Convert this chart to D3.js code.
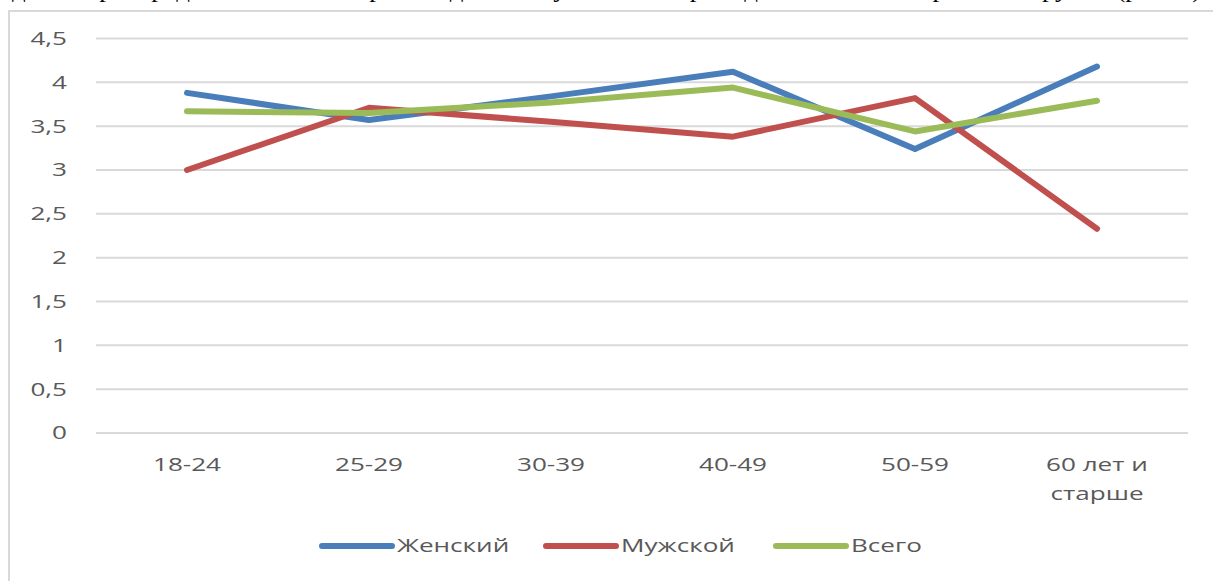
<!DOCTYPE html>
<html>
<head>
<meta charset="utf-8">
<script src="https://d3js.org/d3.v7.min.js"></script>
<style>
  body { margin: 0; background: #fff; }
  .lbl { font-family: "Open Sans", sans-serif; font-size: 18px; fill: #595959; }
  .grid line { stroke: #d9d9d9; stroke-width: 2; }
  .series { fill: none; stroke-width: 6; stroke-linecap: round; stroke-linejoin: round; }
</style>
</head>
<body>
<script>
var categories = ["18-24", "25-29", "30-39", "40-49", "50-59", "60 лет и|старше"];
var female = [3.88, 3.57, 3.84, 4.12, 3.24, 4.18];
var male = [3.0, 3.71, 3.55, 3.38, 3.82, 2.33];
var total = [3.67, 3.65, 3.77, 3.94, 3.44, 3.79];
var seriesNames = ["Женский", "Мужской", "Всего"];
var colors = ["#4a7ebb", "#c0504d", "#9bbb59"];
var yTicks = [0, 0.5, 1, 1.5, 2, 2.5, 3, 3.5, 4, 4.5];

var W = 1213, H = 581, sx = 1.45;

var svg = d3.select("body").append("svg")
    .attr("width", W).attr("height", H);

// clipped line of document text above the chart
svg.append("text")
    .attr("x", 12).attr("y", -3)
    .attr("textLength", 1196)
    .attr("lengthAdjust", "spacingAndGlyphs")
    .style("font-family", "'Liberation Serif', serif")
    .style("font-size", "26px")
    .style("fill", "#000")
    .text("данное распределение ответов респондентов с учетом их принадлежности к возрастной группе (рис. 3).");

// chart frame
svg.append("path")
    .attr("d", "M9," + H + "V11H" + W)
    .attr("fill", "none")
    .attr("stroke", "#d9d9d9")
    .attr("stroke-width", 2);

var x = d3.scaleBand().domain(categories).range([96, 1188]);
var y = d3.scaleLinear().domain([0, 4.5]).range([433, 38.5]);

svg.append("g").attr("class", "grid")
  .selectAll("line").data(yTicks).enter().append("line")
    .attr("x1", 96).attr("x2", 1188)
    .attr("y1", function(d) { return y(d); })
    .attr("y2", function(d) { return y(d); });

svg.append("g").selectAll("text").data(yTicks).enter().append("text")
    .attr("class", "lbl")
    .attr("text-anchor", "end")
    .attr("dy", "0.36em")
    .attr("transform", function(d) { return "translate(67," + y(d) + ") scale(" + sx + ",1)"; })
    .text(function(d) { return String(d).replace(".", ","); });

var xl = svg.append("g").selectAll("text").data(categories).enter().append("text")
    .attr("class", "lbl")
    .attr("text-anchor", "middle")
    .attr("transform", function(d) { return "translate(" + (x(d) + x.bandwidth() / 2) + ",465) scale(" + sx + ",1)"; });
xl.each(function(d) {
  var parts = d.split("|");
  var t = d3.select(this);
  parts.forEach(function(p, i) {
    t.append("tspan").attr("x", 0).attr("dy", i === 0 ? "0.36em" : "29px").text(p);
  });
});

var line = d3.line()
    .x(function(d, i) { return x(categories[i]) + x.bandwidth() / 2; })
    .y(function(d) { return y(d); });

[female, male, total].forEach(function(s, i) {
  svg.append("path").attr("class", "series")
      .attr("stroke", colors[i])
      .attr("d", line(s));
});

// legend
var legX = [322, 546, 776];
seriesNames.forEach(function(n, i) {
  svg.append("line")
      .attr("x1", legX[i]).attr("x2", legX[i] + 70)
      .attr("y1", 546).attr("y2", 546)
      .attr("stroke", colors[i]).attr("stroke-width", 6)
      .attr("stroke-linecap", "round");
  svg.append("text").attr("class", "lbl")
      .attr("dy", "0.36em")
      .attr("transform", "translate(" + (legX[i] + 75) + ",546) scale(" + sx + ",1)")
      .text(n);
});
</script>
</body>
</html>
